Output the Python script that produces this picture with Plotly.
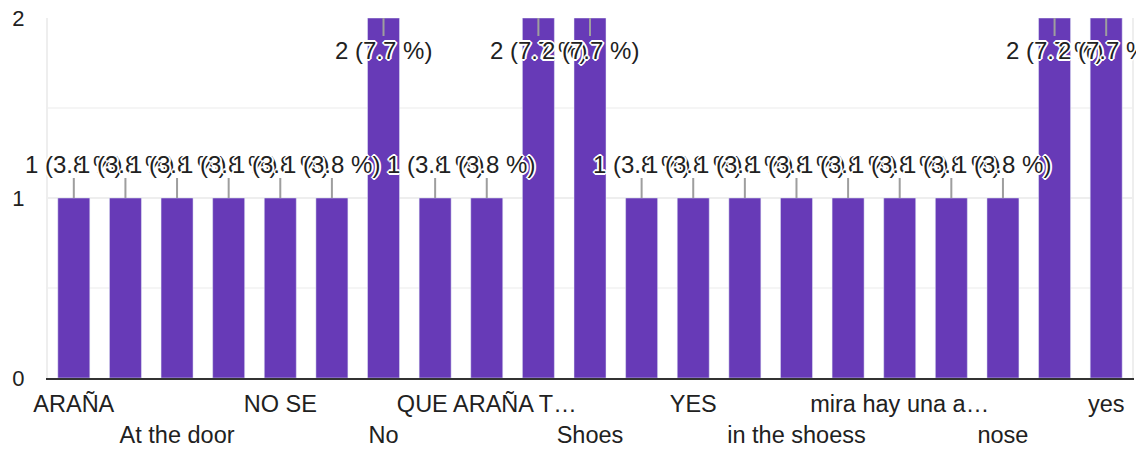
import plotly.graph_objects as go

# Responses (sorted as in the form summary); only every other label is shown on the axis
answers = [
    'ARAÑA', 'ARAÑA EN EL ZAPATO', 'At the door', 'EN LA PUERTA', 'NO SE',
    'NO SE QUE ES', 'No', 'PUERTA', 'QUE ARAÑA TAN GRANDE', 'SHOES',
    'Shoes', 'Spider', 'YES', 'a spider', 'in the shoess',
    'la araña', 'mira hay una araña', 'no se', 'nose', 'shoes', 'yes',
]
counts = [1, 1, 1, 1, 1, 1, 2, 1, 1, 2, 2, 1, 1, 1, 1, 1, 1, 1, 1, 2, 2]
total = 26

shown_ticks = answers[::2]
shown_text = ['ARAÑA', 'At the door', 'NO SE', 'No', 'QUE ARAÑA T…', 'Shoes',
              'YES', 'in the shoess', 'mira hay una a…', 'nose', 'yes']

PURPLE = '#673ab7'
FONT = 'Arial, Liberation Sans, sans-serif'

fig = go.Figure(go.Bar(
    x=answers,
    y=counts,
    marker_color=PURPLE,
    hoverinfo='skip',
))

# Data labels with a leader line, white halo so overlapping labels stay readable
halo = ('-1px -1px 0 #fff, 1px -1px 0 #fff, -1px 1px 0 #fff, 1px 1px 0 #fff, '
        '0 -2px 0 #fff, 0 2px 0 #fff, -2px 0 0 #fff, 2px 0 0 #fff')
for a, c in zip(answers, counts):
    pct = round(100 * c / total, 1)
    fig.add_annotation(
        x=a, y=c,
        text=f'{c} ({pct} %)',
        showarrow=True, arrowhead=0, arrowwidth=2, arrowcolor='#9e9e9e',
        ax=0, ay=-34 if c == 1 else 32,
        font=dict(family=FONT, size=24, color='#212121', shadow=halo),
        borderpad=0,
    )

# Two rows of axis labels, alternating
ticktext = [t if i % 2 == 0 else '<br>' + t for i, t in enumerate(shown_text)]

# page body adds an 8px offset, so the figure is sized to fit the window
fig.update_layout(
    width=1136, height=441,
    margin=dict(l=40, r=12, t=10, b=71),
    plot_bgcolor='white', paper_bgcolor='white',
    bargap=0.38,
    showlegend=False,
    font=dict(family=FONT, color='#212121'),
)
# fixed range: annotations would otherwise widen the autorange
fig.update_xaxes(
    range=[-0.5, len(answers) - 0.5],
    tickmode='array', tickvals=shown_ticks, ticktext=ticktext,
    tickangle=0, tickfont=dict(size=23.5, color='#212121'),
    ticks='outside', ticklen=4, tickcolor='rgba(0,0,0,0)',
    showline=True, linecolor='#333333', linewidth=2,
    showgrid=False, automargin=False,
)
fig.update_yaxes(
    range=[0, 2], tickvals=[0, 1, 2],
    tickfont=dict(size=22, color='#212121'),
    ticks='outside', ticklen=17, tickcolor='rgba(0,0,0,0)',
    ticklabeloverflow='allow',
    gridcolor='#eeeeee', gridwidth=2, zeroline=False,
    minor=dict(dtick=0.5, showgrid=True, gridcolor='#f5f5f5', gridwidth=2),
    showline=True, linecolor='#eeeeee', linewidth=2, mirror=True,
    automargin=False,
)

fig.write_html('out.html')
